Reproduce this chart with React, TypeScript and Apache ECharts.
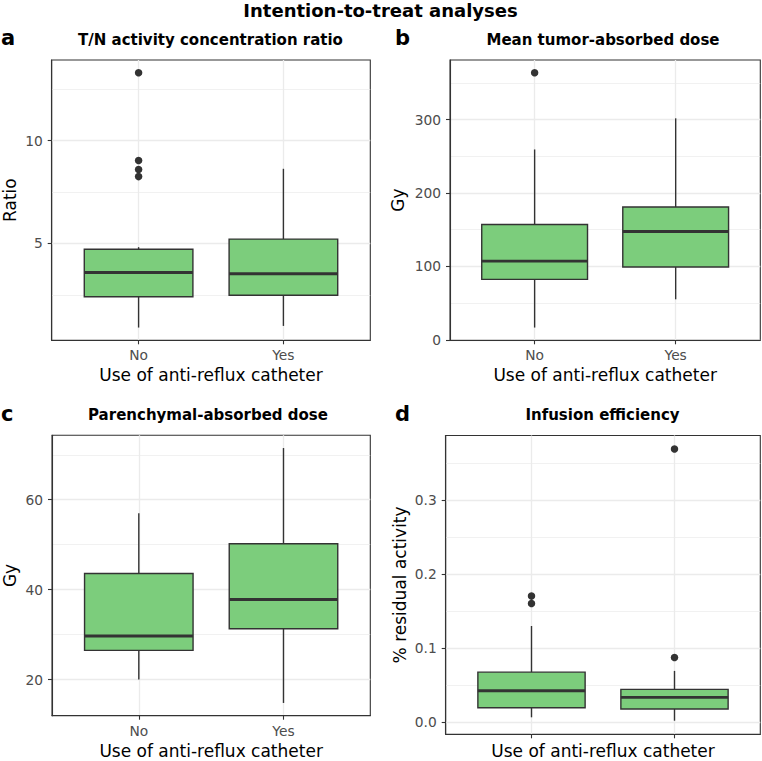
import React, { useEffect, useRef } from 'react';
import * as echarts from 'echarts';

const FONT = 'DejaVu Sans';

const groups = ['No', 'Yes'];
const groupPos = [1, 2];

// each box: [lower whisker, Q1, median, Q3, upper whisker]
const ratioBoxes = [
  [0.91, 2.41, 3.59, 4.72, 4.82],
  [0.99, 2.48, 3.53, 5.21, 8.63],
];
const ratioOutliers = [[13.3, 9.03, 8.59, 8.25], []];
const ratioTicks = [5, 10];

const tumorBoxes = [
  [16.7, 82.4, 107.2, 157, 259.3],
  [55.2, 99.1, 147.5, 180.9, 301.7],
];
const tumorOutliers = [[363.8], []];
const tumorTicks = [0, 100, 200, 300];

const parenBoxes = [
  [20.0, 26.5, 29.7, 43.6, 57.0],
  [14.8, 31.3, 37.8, 50.2, 71.5],
];
const parenOutliers = [[], []];
const parenTicks = [20, 40, 60];

const infusionBoxes = [
  [0.0063, 0.0192, 0.0421, 0.0673, 0.1296],
  [0.0017, 0.0175, 0.0332, 0.044, 0.069],
];
const infusionOutliers = [[0.17, 0.16], [0.3686, 0.087]];
const infusionTicks = [0, 0.1, 0.2, 0.3];

const panels = [
  { letter: 'a', title: 'T/N activity concentration ratio', yName: 'Ratio', boxes: ratioBoxes, outliers: ratioOutliers, ticks: ratioTicks, step: 5, digits: 0, showX: true },
  { letter: 'b', title: 'Mean tumor-absorbed dose', yName: 'Gy', boxes: tumorBoxes, outliers: tumorOutliers, ticks: tumorTicks, step: 100, digits: 0, showX: true },
  { letter: 'c', title: 'Parenchymal-absorbed dose', yName: 'Gy', boxes: parenBoxes, outliers: parenOutliers, ticks: parenTicks, step: 20, digits: 0, showX: true },
  { letter: 'd', title: 'Infusion efficiency', yName: '% residual activity', boxes: infusionBoxes, outliers: infusionOutliers, ticks: infusionTicks, step: 0.1, digits: 1, showX: false },
];

// layout (pixels)
const grids = [
  { left: 51.7, top: 60, width: 318.6, height: 280.3 },
  { left: 450, top: 60, width: 310.3, height: 280.3 },
  { left: 51.7, top: 435.3, width: 318.6, height: 280.4 },
  { left: 445.7, top: 435.5, width: 314.6, height: 298.8 },
];
const yNameGaps = [33, 44, 34, 37];
const xNameGaps = [26, 26, 27, 8];
const titleCenters = [210.5, 603, 208, 602.5];
const titleYs = [39.5, 39.5, 415.4, 415.4];
const letterXs = [1, 395, 1, 395];
const letterYs = [38, 38, 414, 414];

function expandRange(boxes: number[][], outliers: number[][]) {
  const vals: number[] = [];
  boxes.forEach((b) => vals.push(...b));
  outliers.forEach((o) => vals.push(...o));
  const lo = Math.min(...vals);
  const hi = Math.max(...vals);
  const pad = (hi - lo) * 0.05;
  return [lo - pad, hi + pad];
}

const LINE = '#333333';
const GRID = '#ebebeb';

export default function App() {
  const ref = useRef<HTMLDivElement>(null);
  useEffect(() => {
    if (!ref.current) return;
    const chart = echarts.init(ref.current, null, { renderer: 'svg' });

    const xAxis: any[] = [];
    const yAxis: any[] = [];
    const series: any[] = [];
    const graphic: any[] = [
      {
        type: 'text', x: 380.5, y: 10,
        style: { text: 'Intention-to-treat analyses', font: `bold 18px "${FONT}"`, fill: '#000', textAlign: 'center', textVerticalAlign: 'middle' },
      },
    ];

    panels.forEach((p, i) => {
      const [mn, mx] = expandRange(p.boxes, p.outliers);
      xAxis.push({
        type: 'value', gridIndex: i, min: 0.4, max: 2.6, minInterval: 1, maxInterval: 1,
        axisLine: { show: true, onZero: false, lineStyle: { color: LINE, width: 1.1 } },
        axisTick: { show: true, length: 4, customValues: groupPos, lineStyle: { color: LINE, width: 1.1 } },
        axisLabel: {
          show: p.showX, customValues: groupPos,
          formatter: (v: number) => groups[Math.round(v) - 1] ?? '',
          color: '#4d4d4d', fontSize: 13.8, fontFamily: FONT, margin: 8,
        },
        splitLine: { show: true, lineStyle: { color: GRID, width: 1.3 } },
        name: 'Use of anti-reflux catheter', nameLocation: 'middle', nameGap: xNameGaps[i],
        nameTextStyle: { color: '#000', fontSize: 17, fontFamily: FONT },
      });
      yAxis.push({
        type: 'value', gridIndex: i, min: mn, max: mx, minInterval: p.step, maxInterval: p.step,
        axisLine: { show: true, onZero: false, lineStyle: { color: LINE, width: 1.1 } },
        axisTick: { show: true, length: 4, customValues: p.ticks, lineStyle: { color: LINE, width: 1.1 } },
        axisLabel: {
          customValues: p.ticks,
          formatter: (v: number) => v.toFixed(p.digits),
          color: '#4d4d4d', fontSize: 13.8, fontFamily: FONT, margin: 9,
        },
        splitLine: { show: true, lineStyle: { color: GRID, width: 1.3 } },
        minorTick: { show: false, splitNumber: 2 },
        minorSplitLine: { show: true, lineStyle: { color: GRID, width: 0.7 } },
        name: p.yName, nameLocation: 'middle', nameGap: yNameGaps[i],
        nameTextStyle: { color: '#000', fontSize: 17, fontFamily: FONT },
      });
      series.push({
        type: 'custom', xAxisIndex: i, yAxisIndex: i, z: 3,
        encode: { x: 0, y: [1, 2, 3, 4, 5] },
        data: p.boxes.map((b, g) => [groupPos[g], ...b]),
        renderItem: (params: any, api: any) => {
          const x = api.value(0);
          const lo = api.coord([x, api.value(1)]);
          const q1 = api.coord([x, api.value(2)]);
          const md = api.coord([x, api.value(3)]);
          const q3 = api.coord([x, api.value(4)]);
          const hi = api.coord([x, api.value(5)]);
          const w = api.size([0.75, 0])[0];
          const cx = lo[0];
          const ls = { stroke: LINE, lineWidth: 1.4 };
          return {
            type: 'group',
            children: [
              { type: 'line', shape: { x1: cx, y1: hi[1], x2: cx, y2: q3[1] }, style: ls },
              { type: 'line', shape: { x1: cx, y1: q1[1], x2: cx, y2: lo[1] }, style: ls },
              { type: 'rect', shape: { x: cx - w / 2, y: q3[1], width: w, height: q1[1] - q3[1] }, style: { fill: '#7ccd7c', stroke: LINE, lineWidth: 1.4 } },
              { type: 'line', shape: { x1: cx - w / 2, y1: md[1], x2: cx + w / 2, y2: md[1] }, style: { stroke: LINE, lineWidth: 2.9 } },
            ],
          };
        },
      });
      const pts: number[][] = [];
      p.outliers.forEach((arr, g) => arr.forEach((v) => pts.push([groupPos[g], v])));
      series.push({
        type: 'scatter', xAxisIndex: i, yAxisIndex: i, z: 4,
        symbol: 'circle', symbolSize: 7.5, itemStyle: { color: LINE, opacity: 1 },
        data: pts,
      });
      graphic.push({
        type: 'text', x: titleCenters[i], y: titleYs[i],
        style: { text: p.title, font: `bold 15px "${FONT}"`, fill: '#000', textAlign: 'center', textVerticalAlign: 'middle' },
      });
      graphic.push({
        type: 'text', x: letterXs[i], y: letterYs[i],
        style: { text: p.letter, font: `bold 21px "${FONT}"`, fill: '#000', textAlign: 'left', textVerticalAlign: 'middle' },
      });
    });

    chart.setOption({
      animation: false,
      backgroundColor: '#fff',
      grid: grids.map((g) => ({ ...g, show: true, borderColor: LINE, borderWidth: 1.1, backgroundColor: '#fff', containLabel: false })),
      xAxis, yAxis, series, graphic,
    });
    return () => chart.dispose();
  }, []);
  return <div ref={ref} style={{ position: 'absolute', left: 0, top: 0, width: 762, height: 761 }} />;
}
